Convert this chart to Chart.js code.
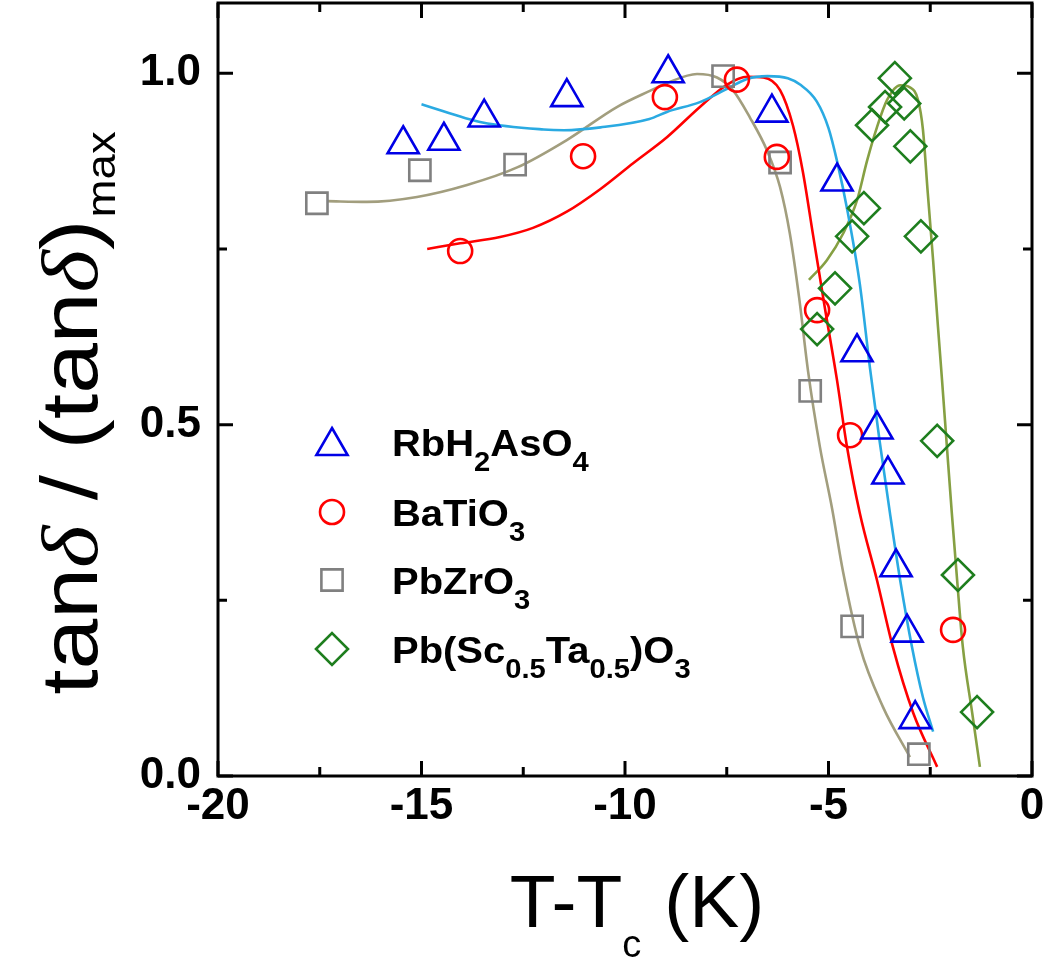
<!DOCTYPE html>
<html><head><meta charset="utf-8">
<script src="https://cdn.jsdelivr.net/npm/chart.js@4/dist/chart.umd.min.js"></script>
<style>html,body{margin:0;padding:0;background:#fff}#wrap{width:1050px;height:969px;position:relative}</style>
</head><body><div id="wrap"><canvas id="c" width="1050" height="969"></canvas></div>
<script>
// ---------- data ----------
const xTickValues = [-20, -15, -10, -5, 0];
const xTickLabels = ['-20', '-15', '-10', '-5', '0'];
const xMinorTicks = [-17.5, -12.5, -7.5, -2.5];
const yTickValues = [0, 0.5, 1.0];
const yTickLabels = ['0.0', '0.5', '1.0'];
const yMinorTicks = [0.25, 0.75];

const seriesNames = ['RbH2AsO4', 'BaTiO3', 'PbZrO3', 'Pb(Sc0.5Ta0.5)O3'];

// measured points
const rbhX = [-15.45, -14.45, -13.46, -11.43, -8.94, -6.39, -4.79, -4.30, -3.81, -3.54, -3.34, -3.07, -2.87];
const rbhY = [0.899, 0.904, 0.937, 0.966, 1.000, 0.944, 0.846, 0.603, 0.493, 0.429, 0.297, 0.204, 0.081];

const batX = [-14.05, -11.03, -9.02, -7.25, -6.27, -5.28, -4.47, -1.94];
const batY = [0.747, 0.882, 0.966, 0.991, 0.881, 0.663, 0.485, 0.208];

const pzoX = [-17.57, -15.04, -12.70, -7.59, -6.19, -5.45, -4.42, -2.78];
const pzoY = [0.815, 0.862, 0.870, 0.996, 0.873, 0.548, 0.213, 0.031];

const pstX = [-3.37, -3.61, -3.14, -3.93, -2.99, -4.13, -4.42, -2.73, -4.84, -5.28, -2.33, -1.82, -1.35];
const pstY = [0.993, 0.952, 0.957, 0.926, 0.896, 0.808, 0.768, 0.768, 0.694, 0.636, 0.477, 0.286, 0.091];

// fitted curves
const rbhFitX = [-15.0, -13.5, -12.0, -11.5, -10.6, -9.4, -8.97, -8.16, -7.49, -7.0, -6.5, -6.0, -5.7, -5.29, -5.0, -4.79, -4.52, -4.23, -3.98, -3.74, -3.49, -3.24, -2.95, -2.68, -2.43];
const rbhFitY = [0.956, 0.930, 0.920, 0.919, 0.923, 0.935, 0.945, 0.959, 0.978, 0.992, 0.996, 0.993, 0.984, 0.960, 0.922, 0.875, 0.800, 0.700, 0.580, 0.475, 0.374, 0.279, 0.184, 0.112, 0.063];

const batFitX = [-14.86, -14.05, -13.07, -12.26, -11.43, -10.61, -9.80, -8.97, -8.16, -7.49, -7.0, -6.6, -6.19, -5.87, -5.63, -5.38, -5.1, -4.79, -4.55, -4.23, -3.81, -3.42, -2.92, -2.33];
const batFitY = [0.750, 0.758, 0.767, 0.780, 0.803, 0.835, 0.872, 0.909, 0.952, 0.984, 0.995, 0.994, 0.976, 0.925, 0.860, 0.770, 0.670, 0.563, 0.470, 0.374, 0.279, 0.184, 0.090, 0.013];

const pzoFitX = [-17.32, -16.34, -15.11, -13.88, -12.65, -11.43, -10.2, -9.39, -8.97, -8.23, -7.74, -7.35, -6.93, -6.51, -6.19, -5.95, -5.72, -5.5, -5.21, -4.91, -4.64, -4.23, -3.66, -3.0];
const pzoFitY = [0.818, 0.817, 0.824, 0.841, 0.866, 0.905, 0.952, 0.975, 0.986, 0.999, 0.994, 0.976, 0.937, 0.890, 0.838, 0.772, 0.680, 0.575, 0.468, 0.380, 0.290, 0.184, 0.098, 0.027];

const pstFitX = [-5.48, -5.04, -4.64, -4.30, -4.05, -3.81, -3.56, -3.24, -3.0, -2.80, -2.68, -2.56, -2.43, -2.31, -2.21, -2.09, -1.97, -1.84, -1.70, -1.47, -1.28];
const pstFitY = [0.706, 0.734, 0.772, 0.819, 0.876, 0.923, 0.962, 0.983, 0.980, 0.962, 0.920, 0.829, 0.734, 0.639, 0.563, 0.468, 0.374, 0.279, 0.184, 0.090, 0.013];

// ---------- styles ----------
const markerColors = ['#0000E6', '#FF0000', '#808080', '#1E7E1E'];
const lineColors = ['#2AAAE2', '#FF0000', '#A29E7E', '#86A043'];
const markerStyles = ['triangle', 'circle', 'rect', 'rectRot'];
const markerRadius = [18, 12, 15, 16];

const pts = (xs, ys) => xs.map((x, i) => ({x: x, y: ys[i]}));

const pointSets = [[rbhX, rbhY], [batX, batY], [pzoX, pzoY], [pstX, pstY]];
const fitSets = [[rbhFitX, rbhFitY], [batFitX, batFitY], [pzoFitX, pzoFitY], [pstFitX, pstFitY]];
const markerOrder = [1, 2, 3, 0];

const datasets = [];
fitSets.forEach((s, i) => datasets.push({
  type: 'line', label: seriesNames[i] + ' fit', data: pts(s[0], s[1]),
  borderColor: lineColors[i], borderWidth: 2.6, pointRadius: 0, fill: false,
  cubicInterpolationMode: 'monotone', order: 10
}));
pointSets.forEach((s, i) => datasets.push({
  type: 'scatter', label: seriesNames[i], data: pts(s[0], s[1]),
  pointStyle: markerStyles[i], pointRadius: markerRadius[i], pointHoverRadius: markerRadius[i],
  borderColor: markerColors[i], backgroundColor: 'rgba(0,0,0,0)', pointBorderWidth: 2.6,
  borderWidth: 2.6, showLine: false, order: markerOrder[i]
}));

const SANS = '"Liberation Sans", Arial, sans-serif';
const SERIF = '"Liberation Serif", "Times New Roman", serif';

function drawRich(ctx, segs, x, y, measureOnly) {
  let cx = x;
  segs.forEach(s => {
    ctx.font = s.font;
    if (!measureOnly) ctx.fillText(s.t, cx, y + (s.dy || 0));
    cx += ctx.measureText(s.t).width + (s.gap || 0);
  });
  return cx - x;
}

const decor = {
  id: 'decor',
  afterDatasetsDraw(chart) {
    const ctx = chart.ctx, a = chart.chartArea;
    const xs = chart.scales.x, ys = chart.scales.y;
    ctx.save();
    ctx.strokeStyle = '#000';
    ctx.lineWidth = 3;
    ctx.strokeRect(a.left, a.top, a.right - a.left, a.bottom - a.top);
    const MAJ = 15, MIN = 9;
    ctx.beginPath();
    const xt = (v, L) => { const p = xs.getPixelForValue(v);
      ctx.moveTo(p, a.bottom); ctx.lineTo(p, a.bottom - L);
      ctx.moveTo(p, a.top); ctx.lineTo(p, a.top + L); };
    const yt = (v, L) => { const p = ys.getPixelForValue(v);
      ctx.moveTo(a.left, p); ctx.lineTo(a.left + L, p);
      ctx.moveTo(a.right, p); ctx.lineTo(a.right - L, p); };
    xTickValues.forEach(v => xt(v, MAJ));
    xMinorTicks.forEach(v => xt(v, MIN));
    yTickValues.forEach(v => yt(v, MAJ));
    yMinorTicks.forEach(v => yt(v, MIN));
    ctx.stroke();
    ctx.restore();
  },
  afterDraw(chart) {
    const ctx = chart.ctx, a = chart.chartArea;
    ctx.save();
    ctx.fillStyle = '#000';
    ctx.textBaseline = 'alphabetic';
    ctx.textAlign = 'left';
    // x title
    const xSegs = [
      {t: 'T-T', font: '75px ' + SANS},
      {t: 'c', font: '38px ' + SANS, dy: 30, gap: 2},
      {t: ' (K)', font: '75px ' + SANS}
    ];
    const xw = drawRich(ctx, xSegs, 0, 0, true);
    drawRich(ctx, xSegs, (a.left + a.right) / 2 + 12 - xw / 2, 927);
    // y title (rotated, slightly stretched along the text)
    const ySegs = [
      {t: 'tan', font: '80px ' + SANS},
      {t: '\u03B4', font: 'italic 80px ' + SERIF},
      {t: ' / (tan', font: '80px ' + SANS},
      {t: '\u03B4', font: 'italic 80px ' + SERIF},
      {t: ')', font: '80px ' + SANS, gap: 2},
      {t: 'max', font: '40px ' + SANS, dy: 18}
    ];
    const yw = drawRich(ctx, ySegs, 0, 0, true);
    ctx.translate(97, 413);
    ctx.rotate(-Math.PI / 2);
    ctx.scale(1.14, 1);
    drawRich(ctx, ySegs, -yw / 2, 0);
    ctx.setTransform(1, 0, 0, 1, 0, 0);
    // legend
    const MF = 'bold 37px ' + SANS, SF = 'bold 27px ' + SANS;
    const rows = [
      [{t: 'RbH', font: MF}, {t: '2', font: SF, dy: 15}, {t: 'AsO', font: MF}, {t: '4', font: SF, dy: 15}],
      [{t: 'BaTiO', font: MF}, {t: '3', font: SF, dy: 15}],
      [{t: 'PbZrO', font: MF}, {t: '3', font: SF, dy: 15}],
      [{t: 'Pb(Sc', font: MF}, {t: '0.5', font: SF, dy: 15}, {t: 'Ta', font: MF}, {t: '0.5', font: SF, dy: 15}, {t: ')O', font: MF}, {t: '3', font: SF, dy: 15}]
    ];
    const rowY = [442, 512, 580, 649];
    const markerDy = [4, 0, 0, 0];
    rows.forEach((segs, i) => {
      ctx.save();
      ctx.strokeStyle = markerColors[i];
      ctx.fillStyle = 'rgba(0,0,0,0)';
      ctx.lineWidth = 2.6;
      Chart.helpers.drawPoint(ctx, {pointStyle: markerStyles[i], radius: markerRadius[i], rotation: 0, borderWidth: 2.6}, 332, rowY[i] + markerDy[i]);
      ctx.restore();
      ctx.save();
      ctx.fillStyle = '#000';
      ctx.translate(392, rowY[i] + 14);
      ctx.scale(1.08, 1);
      drawRich(ctx, segs, 0, 0);
      ctx.restore();
    });
    ctx.restore();
  }
};

new Chart(document.getElementById('c'), {
  data: {datasets: datasets},
  options: {
    responsive: false,
    animation: false,
    devicePixelRatio: 1,
    layout: {autoPadding: false, padding: {top: 3, right: 18, left: 0, bottom: 0}},
    plugins: {legend: {display: false}, tooltip: {enabled: false}},
    scales: {
      x: {
        type: 'linear', min: -20, max: 0,
        grid: {display: false, drawTicks: false}, border: {display: false},
        afterBuildTicks: s => { s.ticks = xTickValues.map(v => ({value: v})); },
        afterFit: s => { s.height = 193; s.paddingLeft = 0; s.paddingRight = 0; },
        ticks: {
          padding: 4, color: '#000', maxRotation: 0, autoSkip: false,
          font: {family: SANS, size: 44, weight: 'bold'},
          callback: (v) => { const i = xTickValues.indexOf(v); return i >= 0 ? xTickLabels[i] : ''; }
        }
      },
      y: {
        type: 'linear', min: 0, max: 1.1,
        grid: {display: false, drawTicks: false}, border: {display: false},
        afterBuildTicks: s => { s.ticks = yTickValues.map(v => ({value: v})); },
        afterFit: s => { s.width = 218; s.paddingTop = 0; s.paddingBottom = 0; },
        ticks: {
          padding: 17, color: '#000', autoSkip: false,
          font: {family: SANS, size: 44, weight: 'bold'},
          callback: (v) => { const i = yTickValues.findIndex(t => Math.abs(t - v) < 1e-9); return i >= 0 ? yTickLabels[i] : ''; }
        }
      }
    }
  },
  plugins: [decor]
});
</script>
</body></html>
